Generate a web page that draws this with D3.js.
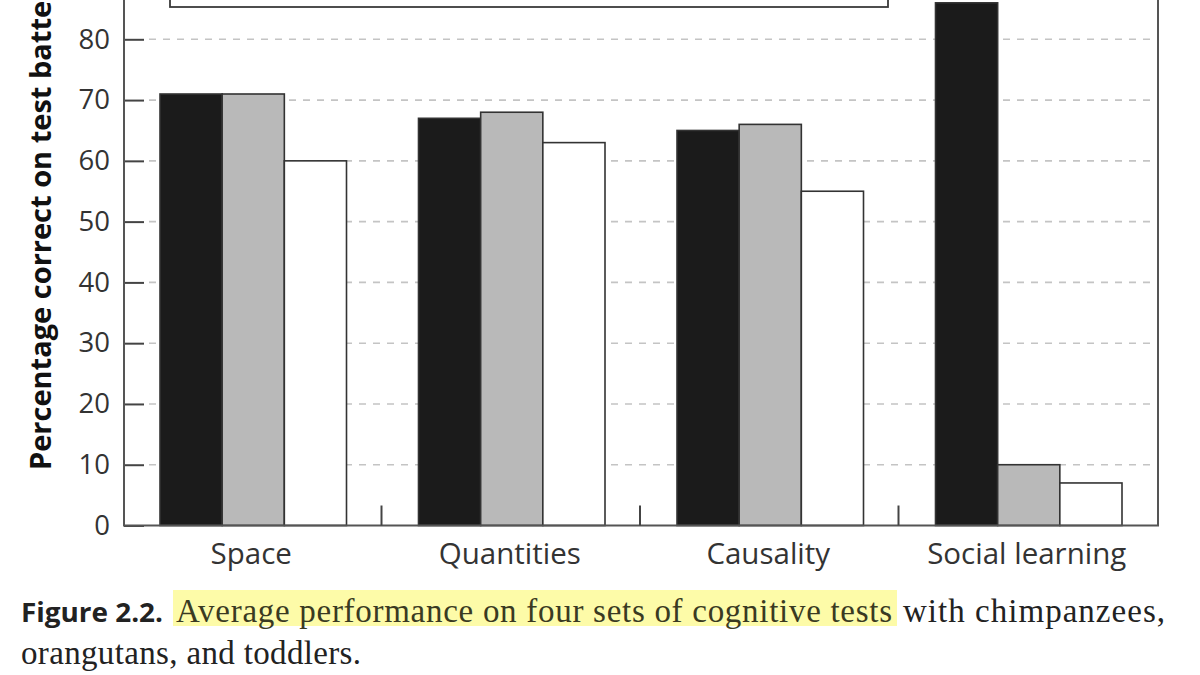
<!DOCTYPE html>
<html>
<head>
<meta charset="utf-8">
<script src="https://cdn.jsdelivr.net/npm/d3@7"></script>
<style>
  html, body { margin: 0; padding: 0; background: #fff; }
  svg { display: block; }
</style>
</head>
<body>
<svg class="chart"></svg>
<script>
const categories = ["Space", "Quantities", "Causality", "Social learning"];
const series = ["Chimpanzees", "Orangutans", "Toddlers"];
const chimpanzees = [71, 67, 65, 86];
const orangutans = [71, 68, 66, 10];
const toddlers = [60, 63, 55, 7];
const yTicks = [0, 10, 20, 30, 40, 50, 60, 70, 80];
const gridValues = [10, 20, 30, 40, 50, 60, 70, 80];
const yLabel = "Percentage correct on test battery";
const captionBold = "Figure 2.2.";
const captionMarked = "Average performance on four sets of cognitive tests";
const captionRest = "with chimpanzees,";
const captionLine2 = "orangutans, and toddlers.";

const width = 1200;
const height = 675;

const svg = d3.select(".chart")
    .attr("width", width)
    .attr("height", height);

const x = d3.scaleBand()
    .domain(categories)
    .range([124, 1158])
    .padding(0);

const xInner = d3.scaleBand()
    .domain(series)
    .range([36, x.bandwidth() - 36])
    .padding(0);

const y = d3.scaleLinear()
    .domain([0, 80])
    .range([525.5, 39.3]);

const fills = { Chimpanzees: "#1b1b1b", Orangutans: "#b9b9b9", Toddlers: "#ffffff" };
const values = { Chimpanzees: chimpanzees, Orangutans: orangutans, Toddlers: toddlers };

// dashed grid
svg.append("g")
    .selectAll("line")
    .data(gridValues)
    .enter().append("line")
    .attr("x1", 146)
    .attr("x2", 1156)
    .attr("y1", d => y(d))
    .attr("y2", d => y(d))
    .attr("stroke", "#c4c4c4")
    .attr("stroke-width", 1.6)
    .attr("stroke-dasharray", "7,7")
    .attr("stroke-dashoffset", -3);

// legend box, cut off at the top of the picture
svg.append("rect")
    .attr("x", 170)
    .attr("y", -60)
    .attr("width", 718)
    .attr("height", 67)
    .attr("fill", "#fff")
    .attr("stroke", "#3a3a3a")
    .attr("stroke-width", 1.8);

// bars
const rows = [];
categories.forEach((c, i) => {
    series.forEach(s => rows.push({ cat: c, key: s, value: values[s][i] }));
});

svg.append("g")
    .selectAll("rect")
    .data(rows)
    .enter().append("rect")
    .attr("x", d => x(d.cat) + xInner(d.key))
    .attr("y", d => y(d.value))
    .attr("width", xInner.bandwidth())
    .attr("height", d => y(0) - y(d.value))
    .attr("fill", d => fills[d.key])
    .attr("stroke", "#333")
    .attr("stroke-width", 1.6);

// y axis
const yAxis = svg.append("g")
    .attr("transform", `translate(124,0)`)
    .call(d3.axisLeft(y)
        .tickValues(yTicks)
        .tickSizeInner(-20)
        .tickSizeOuter(0)
        .tickPadding(14));
yAxis.select(".domain").remove();
yAxis.selectAll(".tick line").attr("stroke", "#444").attr("stroke-width", 2);
yAxis.selectAll(".tick text")
    .attr("fill", "#333")
    .attr("font-family", "'Open Sans', sans-serif")
    .attr("font-size", 27.5);

// frame: left axis, bottom axis, right edge
svg.append("path")
    .attr("d", `M124,0V${y(0)}H1158V0`)
    .attr("fill", "none")
    .attr("stroke", "#555")
    .attr("stroke-width", 2);

// group separator ticks
svg.append("g")
    .selectAll("line")
    .data(categories.slice(1))
    .enter().append("line")
    .attr("x1", d => x(d) - 1)
    .attr("x2", d => x(d) - 1)
    .attr("y1", y(0))
    .attr("y2", y(0) - 20)
    .attr("stroke", "#444")
    .attr("stroke-width", 2);

// category labels
svg.append("g")
    .selectAll("text")
    .data(categories)
    .enter().append("text")
    .attr("x", d => x(d) + x.bandwidth() / 2 - 2)
    .attr("y", 564)
    .attr("text-anchor", "middle")
    .attr("fill", "#333")
    .attr("font-family", "'Open Sans', sans-serif")
    .attr("font-size", 29.5)
    .text(d => d);

// y axis title
svg.append("text")
    .attr("transform", "translate(51,470) rotate(-90)")
    .attr("text-anchor", "start")
    .attr("fill", "#111")
    .attr("font-family", "'Open Sans', sans-serif")
    .attr("font-weight", "bold")
    .attr("font-size", 29)
    .text(yLabel);

// caption
const cap = svg.append("g");
cap.append("rect")
    .attr("x", 173)
    .attr("y", 590)
    .attr("width", 724)
    .attr("height", 36)
    .attr("fill", "#fdfba8");

cap.append("text")
    .attr("x", 21)
    .attr("y", 622)
    .attr("fill", "#222")
    .attr("font-family", "'Open Sans', sans-serif")
    .attr("font-weight", "bold")
    .attr("font-size", 26)
    .attr("textLength", 142)
    .attr("lengthAdjust", "spacingAndGlyphs")
    .text(captionBold);

cap.append("text")
    .attr("x", 176)
    .attr("y", 622)
    .attr("fill", "#3a3a22")
    .attr("font-family", "'Liberation Serif', serif")
    .attr("font-size", 33)
    .attr("textLength", 716)
    .attr("lengthAdjust", "spacing")
    .text(captionMarked);

cap.append("text")
    .attr("x", 903)
    .attr("y", 622)
    .attr("fill", "#222")
    .attr("font-family", "'Liberation Serif', serif")
    .attr("font-size", 33)
    .attr("textLength", 262)
    .attr("lengthAdjust", "spacing")
    .text(captionRest);

cap.append("text")
    .attr("x", 21)
    .attr("y", 664)
    .attr("fill", "#222")
    .attr("font-family", "'Liberation Serif', serif")
    .attr("font-size", 33)
    .attr("textLength", 340)
    .attr("lengthAdjust", "spacing")
    .text(captionLine2);
</script>
</body>
</html>
